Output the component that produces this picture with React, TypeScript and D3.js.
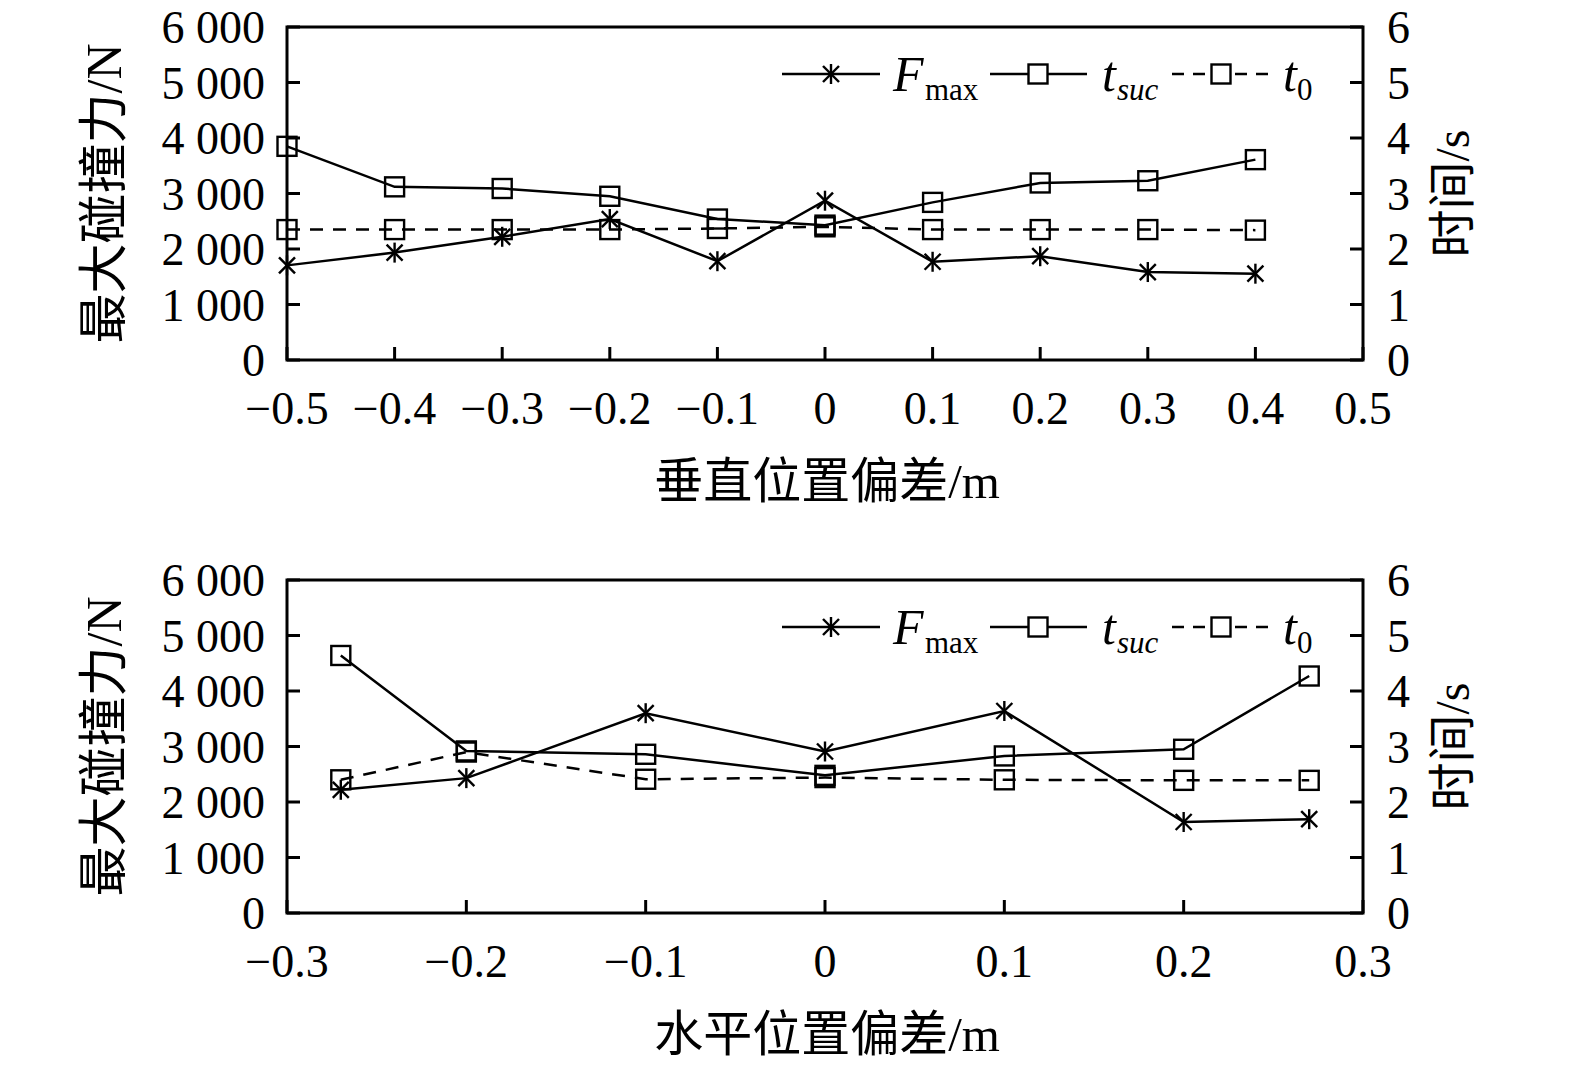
import * as d3 from "d3";

// top panel: vertical offset
const vertX = [-0.5, -0.4, -0.3, -0.2, -0.1, 0, 0.1, 0.2, 0.3, 0.4];
const vertFmax = [1705, 1935, 2220, 2540, 1780, 2870, 1770, 1870, 1585, 1555];
const vertTsuc = [3.85, 3.12, 3.09, 2.95, 2.54, 2.43, 2.84, 3.19, 3.23, 3.61];
const vertT0 = [2.35, 2.35, 2.35, 2.35, 2.37, 2.4, 2.35, 2.35, 2.35, 2.34];
const vertXTicks = [-0.5, -0.4, -0.3, -0.2, -0.1, 0, 0.1, 0.2, 0.3, 0.4, 0.5];

// bottom panel: horizontal offset
const horzX = [-0.27, -0.2, -0.1, 0, 0.1, 0.2, 0.27];
const horzFmax = [2220, 2430, 3600, 2910, 3640, 1640, 1690];
const horzTsuc = [4.64, 2.92, 2.86, 2.48, 2.83, 2.95, 4.27];
const horzT0 = [2.4, 2.9, 2.41, 2.44, 2.4, 2.39, 2.39];
const horzXTicks = [-0.3, -0.2, -0.1, 0, 0.1, 0.2, 0.3];

const forceTicks = [0, 1000, 2000, 3000, 4000, 5000, 6000];
const forceTickLabels = ["0", "1 000", "2 000", "3 000", "4 000", "5 000", "6 000"];
const timeTicks = [0, 1, 2, 3, 4, 5, 6];

const SERIF = "'Liberation Serif', 'Times New Roman', 'Noto Sans CJK SC', serif";
const W = 1575;
const H = 1071;
const SW = 2.5;

type Point = { x: number; v: number };

const fmtX = (v: number) => (v === 0 ? "0" : d3.format(".1f")(v).replace("-", "\u2212"));

function Star({ x, y }: { x: number; y: number }) {
  const r = 10;
  const d = 8;
  return (
    <g stroke="#000" strokeWidth={2.4}>
      <line x1={x} y1={y - r} x2={x} y2={y + r} />
      <line x1={x - d} y1={y - d} x2={x + d} y2={y + d} />
      <line x1={x - d} y1={y + d} x2={x + d} y2={y - d} />
    </g>
  );
}

function Square({ x, y, fill = "none" }: { x: number; y: number; fill?: string }) {
  const s = 19;
  return <rect x={x - s / 2} y={y - s / 2} width={s} height={s} fill={fill} stroke="#000" strokeWidth={2.4} />;
}

function Legend({ y }: { y: number }) {
  return (
    <g fontFamily={SERIF} fill="#000">
      <line x1={782} x2={880} y1={y} y2={y} stroke="#000" strokeWidth={SW} />
      <Star x={831} y={y} />
      <text x={893} y={y + 17} fontSize={50} fontStyle="italic">F</text>
      <text x={925} y={y + 26} fontSize={31}>max</text>

      <line x1={990} x2={1087} y1={y} y2={y} stroke="#000" strokeWidth={SW} />
      <Square x={1038} y={y} fill="#fff" />
      <text x={1102} y={y + 17} fontSize={50} fontStyle="italic">t</text>
      <text x={1117} y={y + 26} fontSize={31} fontStyle="italic">suc</text>

      <line x1={1172} x2={1268} y1={y} y2={y} stroke="#000" strokeWidth={SW} strokeDasharray="12 9" />
      <Square x={1221} y={y} fill="#fff" />
      <text x={1283} y={y + 17} fontSize={50} fontStyle="italic">t</text>
      <text x={1297} y={y + 26} fontSize={31}>0</text>
    </g>
  );
}

function Panel({
  top,
  xs,
  fmax,
  tsuc,
  t0,
  xTicks,
  title,
}: {
  top: number;
  xs: number[];
  fmax: number[];
  tsuc: number[];
  t0: number[];
  xTicks: number[];
  title: string;
}) {
  const left = 287;
  const right = 1363;
  const bottom = top + 333;
  const x = d3.scaleLinear().domain([xTicks[0], xTicks[xTicks.length - 1]]).range([left, right]);
  const yF = d3.scaleLinear().domain([0, 6000]).range([bottom, top]);
  const yT = d3.scaleLinear().domain([0, 6]).range([bottom, top]);

  const fPts: Point[] = xs.map((v, i) => ({ x: v, v: fmax[i] }));
  const sPts: Point[] = xs.map((v, i) => ({ x: v, v: tsuc[i] }));
  const oPts: Point[] = xs.map((v, i) => ({ x: v, v: t0[i] }));

  const lineF = d3.line<Point>().x((p) => x(p.x)).y((p) => yF(p.v));
  const lineT = d3.line<Point>().x((p) => x(p.x)).y((p) => yT(p.v));
  const tick = 13;

  return (
    <g>
      {/* data */}
      <path d={lineT(oPts) ?? ""} fill="none" stroke="#000" strokeWidth={SW} strokeDasharray="13 10" />
      <path d={lineT(sPts) ?? ""} fill="none" stroke="#000" strokeWidth={SW} />
      <path d={lineF(fPts) ?? ""} fill="none" stroke="#000" strokeWidth={SW} />
      {oPts.map((p, i) => (
        <Square key={`o${i}`} x={x(p.x)} y={yT(p.v)} />
      ))}
      {sPts.map((p, i) => (
        <Square key={`s${i}`} x={x(p.x)} y={yT(p.v)} />
      ))}
      {fPts.map((p, i) => (
        <Star key={`f${i}`} x={x(p.x)} y={yF(p.v)} />
      ))}

      {/* frame */}
      <rect x={left} y={top} width={right - left} height={bottom - top} fill="none" stroke="#000" strokeWidth={3} />

      {/* left axis */}
      {forceTicks.map((t, i) => (
        <g key={`lf${t}`}>
          <line x1={left} x2={left + tick} y1={yF(t)} y2={yF(t)} stroke="#000" strokeWidth={3} />
          <text x={265} y={yF(t) + 16} textAnchor="end" fontSize={46} fontFamily={SERIF}>
            {forceTickLabels[i]}
          </text>
        </g>
      ))}
      {/* right axis */}
      {timeTicks.map((t) => (
        <g key={`rt${t}`}>
          <line x1={right - tick} x2={right} y1={yT(t)} y2={yT(t)} stroke="#000" strokeWidth={3} />
          <text x={1387} y={yT(t) + 16} fontSize={46} fontFamily={SERIF}>
            {t}
          </text>
        </g>
      ))}
      {/* bottom axis */}
      {xTicks.map((t) => (
        <g key={`bx${t}`}>
          <line x1={x(t)} x2={x(t)} y1={bottom} y2={bottom - tick} stroke="#000" strokeWidth={3} />
          <text x={x(t)} y={bottom + 64} textAnchor="middle" fontSize={46} fontFamily={SERIF}>
            {fmtX(t)}
          </text>
        </g>
      ))}

      {/* titles */}
      <text x={(left + right) / 2 + 2} y={bottom + 138} textAnchor="middle" fontSize={49} fontFamily={SERIF}>
        {title}
      </text>
      <text
        transform={`translate(104, ${(top + bottom) / 2}) rotate(-90)`}
        textAnchor="middle"
        dominantBaseline="central"
        fontSize={50}
        fontFamily={SERIF}
      >
        最大碰撞力/N
      </text>
      <text
        transform={`translate(1452, ${(top + bottom) / 2}) rotate(-90)`}
        textAnchor="middle"
        dominantBaseline="central"
        fontSize={48}
        fontFamily={SERIF}
      >
        时间/s
      </text>

      <Legend y={top + 47} />
    </g>
  );
}

export default function App() {
  return (
    <svg
      width={W}
      height={H}
      viewBox={`0 0 ${W} ${H}`}
      style={{ position: "absolute", left: 0, top: 0, background: "#fff" }}
    >
      <rect width={W} height={H} fill="#fff" />
      <Panel top={27} xs={vertX} fmax={vertFmax} tsuc={vertTsuc} t0={vertT0} xTicks={vertXTicks} title="垂直位置偏差/m" />
      <Panel top={580} xs={horzX} fmax={horzFmax} tsuc={horzTsuc} t0={horzT0} xTicks={horzXTicks} title="水平位置偏差/m" />
    </svg>
  );
}
